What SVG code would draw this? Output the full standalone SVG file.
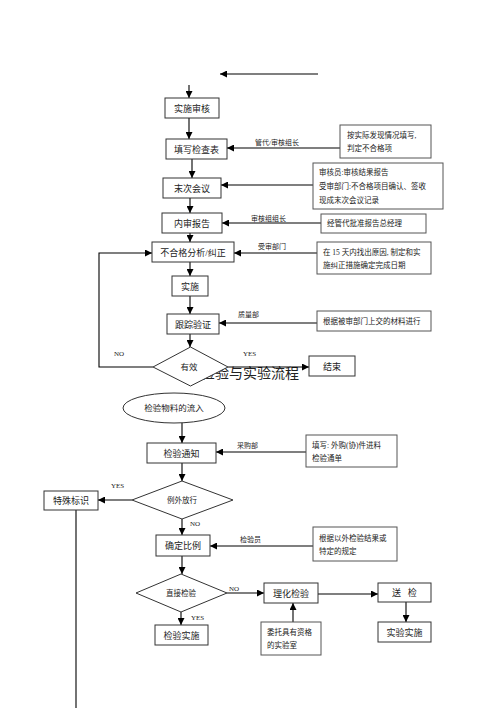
<svg xmlns="http://www.w3.org/2000/svg" width="500" height="708" viewBox="0 0 500 708">
<defs>
<marker id="ah" viewBox="0 0 10 10" refX="10" refY="5" markerWidth="7" markerHeight="7" markerUnits="userSpaceOnUse" orient="auto"><path d="M0,0 L10,5 L0,10 z" fill="#000"/></marker>
<style>
.b{fill:#fff;stroke:#333;stroke-width:1}
.n{fill:#fff;stroke:#555;stroke-width:1}
.l{fill:none;stroke:#000;stroke-width:1.1}
.a{fill:none;stroke:#000;stroke-width:1.1;marker-end:url(#ah)}
text{font-family:"Liberation Serif","Noto Sans CJK SC",serif;fill:#222}
.t{font-size:9px;text-anchor:middle}
.s{font-size:7.5px}
.e{font-size:7px}
</style>
</defs>
<rect width="500" height="708" fill="#fff"/>
<text x="201" y="378" style="font-size:14px" fill="#444">检验与实验流程</text>
<g id="connectors">
<path class="a" d="M318,74 H220"/>
<path class="a" d="M189,85 V98"/>
<path class="a" d="M189,118 V139"/>
<path class="a" d="M340,148 H227"/>
<path class="a" d="M192,159 V178"/>
<path class="a" d="M313,185 H221"/>
<path class="a" d="M190,198 V213"/>
<path class="a" d="M321,223 H222"/>
<path class="a" d="M190,233 V242"/>
<path class="a" d="M317,253 H234"/>
<path class="a" d="M190,262 V276"/>
<path class="a" d="M190,296 V314"/>
<path class="a" d="M317,323 H219"/>
<path class="a" d="M190,334 V347"/>
<path class="a" d="M153,367 H99 V253 H152"/>
<path class="a" d="M228,367 H309"/>
<path class="a" d="M182,423 V443"/>
<path class="a" d="M306,452 H216"/>
<path class="a" d="M182,463 V481"/>
<path class="a" d="M132,500 H98"/>
<path class="l" d="M76,510 V708"/>
<path class="a" d="M182,519 V535"/>
<path class="a" d="M313,546 H210"/>
<path class="a" d="M182,556 V574"/>
<path class="a" d="M227,593 H264"/>
<path class="a" d="M181,612 V625"/>
<path class="a" d="M318,594 H378"/>
<path class="a" d="M406,602 V622"/>
<path class="a" d="M293,622 V603"/>
<text class="e" x="255" y="145">管代/审核组长</text>
<text class="e" x="251" y="221">审核组组长</text>
<text class="e" x="258" y="249">受审部门</text>
<text class="e" x="238" y="317">质量部</text>
<text class="e" x="114" y="356">NO</text>
<text class="e" x="243" y="356">YES</text>
<text class="e" x="237" y="448">采购部</text>
<text class="e" x="111" y="488">YES</text>
<text class="e" x="190" y="526">NO</text>
<text class="e" x="240" y="542">检验员</text>
<text class="e" x="229" y="591">NO</text>
<text class="e" x="191" y="620">YES</text>
</g>
<g id="n1"><rect class="b" x="165" y="98" width="54" height="20"/><text class="t" x="192" y="111.5">实施审核</text></g>
<g id="n2"><rect class="b" x="166" y="139" width="61" height="20"/><text class="t" x="196.5" y="152.5">填写检查表</text></g>
<g id="r1"><rect class="n" x="340" y="125" width="91" height="33"/><text class="s" x="347" y="138">按实际发现情况填写,</text><text class="s" x="347" y="151">判定不合格项</text></g>
<g id="n3"><rect class="b" x="163" y="178" width="58" height="20"/><text class="t" x="192" y="191.5">末次会议</text></g>
<g id="r2"><rect class="n" x="313" y="163" width="130" height="46"/><text class="s" x="319" y="175">审核员:审核结果报告</text><text class="s" x="319" y="189">受审部门:不合格项目确认、签收</text><text class="s" x="319" y="203">现成末次会议记录</text></g>
<g id="n4"><rect class="b" x="162" y="213" width="60" height="20"/><text class="t" x="192" y="226.5">内审报告</text></g>
<g id="r3"><rect class="n" x="321" y="214" width="105" height="19"/><text class="s" x="327" y="226">经管代批准报告总经理</text></g>
<g id="n5"><rect class="b" x="152" y="242" width="82" height="20"/><text class="t" x="193" y="255.5">不合格分析/纠正</text></g>
<g id="r4"><rect class="n" x="317" y="242" width="114" height="32"/><text class="s" x="323" y="255">在 15 天内找出原因, 制定和实</text><text class="s" x="323" y="268">施纠正措施确定完成日期</text></g>
<g id="n6"><rect class="b" x="172" y="276" width="36" height="20"/><text class="t" x="190" y="289.5">实施</text></g>
<g id="n7"><rect class="b" x="167" y="314" width="52" height="20"/><text class="t" x="193" y="327.5">跟踪验证</text></g>
<g id="r5"><rect class="n" x="317" y="311" width="114" height="20"/><text class="s" x="323" y="324">根据被审部门上交的材料进行</text></g>
<g id="d1"><polygon class="b" points="190.5,347 228,367 190.5,386 153,367"/><text class="t" x="189" y="370" style="font-size:8.5px">有效</text></g>
<g id="n8"><rect class="b" x="309" y="356" width="46" height="20"/><text class="t" x="332" y="369.5">结束</text></g>
<g id="n9"><ellipse class="b" cx="174" cy="408" rx="51" ry="15"/><text class="t" x="174" y="411" style="font-size:8.5px">检验物料的流入</text></g>
<g id="n10"><rect class="b" x="147" y="443" width="69" height="20"/><text class="t" x="181.5" y="456.5">检验通知</text></g>
<g id="r6"><rect class="n" x="306" y="435" width="91" height="32"/><text class="s" x="312" y="448">填写: 外购(协)件进料</text><text class="s" x="312" y="461">检验通单</text></g>
<g id="d2"><polygon class="b" points="182,481 233,500 182,519 132,500"/><text class="t" x="182" y="503" style="font-size:7.5px">例外放行</text></g>
<g id="n11"><rect class="b" x="44" y="491" width="54" height="19"/><text class="t" x="71" y="503.5">特殊标识</text></g>
<g id="n12"><rect class="b" x="156" y="535" width="54" height="21"/><text class="t" x="183" y="548.5">确定比例</text></g>
<g id="r7"><rect class="n" x="313" y="527" width="84" height="34"/><text class="s" x="319" y="541">根据以外检验结果或</text><text class="s" x="319" y="554">特定的规定</text></g>
<g id="d3"><polygon class="b" points="181,574 227,593 181,612 136,593"/><text class="t" x="181" y="596" style="font-size:7.5px">直接检验</text></g>
<g id="n13"><rect class="b" x="155" y="625" width="53" height="20"/><text class="t" x="181.5" y="638.5">检验实施</text></g>
<g id="n14"><rect class="b" x="264" y="583" width="54" height="20"/><text class="t" x="291" y="596.5">理化检验</text></g>
<g id="n15"><rect class="b" x="378" y="583" width="53" height="19"/><text class="t" x="404.5" y="595.5" xml:space="preserve">送   检</text></g>
<g id="n16"><rect class="b" x="378" y="622" width="53" height="20"/><text class="t" x="404.5" y="635.5">实验实施</text></g>
<g id="n17"><rect class="n" x="261" y="622" width="60" height="33"/><text class="s" x="267" y="635">委托具有资格</text><text class="s" x="267" y="648">的实验室</text></g>
</svg>
